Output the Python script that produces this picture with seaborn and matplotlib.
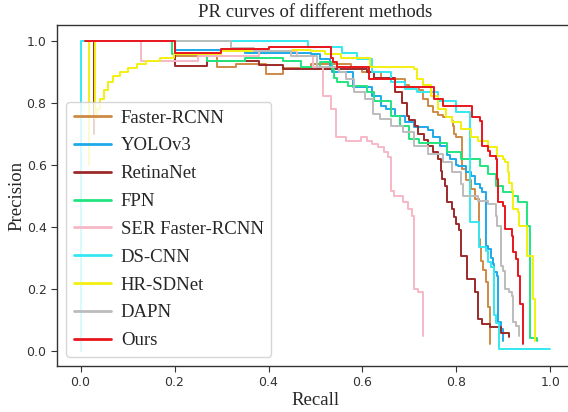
import matplotlib
matplotlib.use("Agg")
import matplotlib.pyplot as plt
import seaborn as sns
import pandas as pd

methods = ["Faster-RCNN", "YOLOv3", "RetinaNet", "FPN", "SER Faster-RCNN",
           "DS-CNN", "HR-SDNet", "DAPN", "Ours"]
colors = ["#cd8a45", "#1ea9ea", "#9c2a2a", "#22e47e", "#f5b8c6",
          "#35e8f0", "#f3f012", "#bcbcbc", "#e8161c"]

faster_r = [0.02, 0.2, 0.29, 0.33, 0.395, 0.43, 0.49, 0.575, 0.6, 0.64, 0.69, 0.7, 0.72, 0.728,
            0.74, 0.75, 0.76, 0.772, 0.79, 0.792, 0.795, 0.8, 0.812, 0.82, 0.83, 0.84, 0.847,
            0.851, 0.852, 0.857, 0.862, 0.866, 0.868, 0.872, 0.872]
faster_p = [1.0, 0.95, 0.913, 0.925, 0.893, 0.91, 0.925, 0.913, 0.9, 0.875, 0.858, 0.85, 0.84, 0.81,
            0.79, 0.77, 0.76, 0.752, 0.74, 0.723, 0.7, 0.688, 0.585, 0.55, 0.52, 0.489, 0.36,
            0.334, 0.29, 0.26, 0.222, 0.2, 0.141, 0.135, 0.02]

yolo_r = [0.02, 0.2, 0.35, 0.49, 0.51, 0.53, 0.535, 0.58, 0.62, 0.64, 0.65, 0.67, 0.69, 0.71,
          0.74, 0.75, 0.765, 0.78, 0.787, 0.798, 0.804, 0.82, 0.83, 0.84, 0.84, 0.851, 0.855,
          0.862, 0.862, 0.868, 0.874, 0.878, 0.879, 0.887, 0.889, 0.894, 0.898]
yolo_p = [1.0, 0.97, 0.96, 0.955, 0.94, 0.91, 0.897, 0.85, 0.82, 0.79, 0.778, 0.756, 0.736, 0.72,
          0.71, 0.69, 0.66, 0.63, 0.617, 0.6, 0.595, 0.575, 0.563, 0.55, 0.537, 0.525, 0.51,
          0.48, 0.338, 0.328, 0.3, 0.28, 0.254, 0.241, 0.093, 0.07, 0.03]

retina_r = [0.028, 0.028, 0.2, 0.27, 0.38, 0.43, 0.61, 0.625, 0.67, 0.685, 0.695, 0.7, 0.711,
            0.718, 0.73, 0.74, 0.75, 0.76, 0.766, 0.77, 0.775, 0.78, 0.79, 0.795, 0.8, 0.805,
            0.81, 0.823, 0.84, 0.845, 0.855, 0.872, 0.894, 0.911, 0.911]
retina_p = [0.7, 1.0, 0.917, 0.935, 0.92, 0.907, 0.9, 0.88, 0.833, 0.8, 0.755, 0.745, 0.723,
            0.7, 0.68, 0.66, 0.64, 0.617, 0.58, 0.553, 0.53, 0.479, 0.455, 0.43, 0.408, 0.39,
            0.305, 0.23, 0.19, 0.103, 0.087, 0.077, 0.055, 0.045, 0.045]

fpn_r = [0.02, 0.195, 0.27, 0.35, 0.43, 0.47, 0.51, 0.535, 0.54, 0.545, 0.57, 0.61, 0.625,
         0.66, 0.68, 0.7, 0.72, 0.78, 0.81, 0.85, 0.867, 0.885, 0.9, 0.92, 0.93, 0.951, 0.957,
         0.972]
fpn_p = [1.0, 0.955, 0.935, 0.945, 0.935, 0.913, 0.93, 0.907, 0.88, 0.865, 0.852, 0.833, 0.804,
         0.756, 0.723, 0.682, 0.67, 0.64, 0.617, 0.595, 0.569, 0.53, 0.511, 0.5, 0.479, 0.402,
         0.04, 0.03]

ser_r = [0.01, 0.128, 0.25, 0.38, 0.46, 0.494, 0.515, 0.532, 0.543, 0.564, 0.596, 0.61, 0.621,
         0.634, 0.645, 0.655, 0.66, 0.666, 0.687, 0.696, 0.706, 0.709, 0.719, 0.728, 0.728]
ser_p = [1.0, 0.935, 0.95, 0.965, 0.95, 0.916, 0.82, 0.778, 0.688, 0.675, 0.688, 0.675, 0.666,
         0.656, 0.64, 0.624, 0.514, 0.498, 0.479, 0.457, 0.434, 0.2, 0.19, 0.167, 0.048]

ds_r = [0.0, 0.0, 0.485, 0.557, 0.588, 0.62, 0.66, 0.69, 0.717, 0.76, 0.8, 0.828, 0.847,
        0.862, 0.866, 0.874, 0.88, 0.885, 0.89, 1.0]
ds_p = [0.0, 1.0, 0.98, 0.96, 0.94, 0.9, 0.865, 0.842, 0.833, 0.804, 0.769, 0.415, 0.334,
        0.32, 0.286, 0.27, 0.113, 0.09, 0.005, 0.005]

hr_r = [0.019, 0.019, 0.03, 0.036, 0.042, 0.049, 0.058, 0.07, 0.085, 0.1, 0.12, 0.14, 0.17,
        0.198, 0.3, 0.45, 0.49, 0.52, 0.555, 0.617, 0.709, 0.717, 0.728, 0.745, 0.76, 0.777,
        0.791, 0.809, 0.83, 0.845, 0.866, 0.887, 0.9, 0.904, 0.909, 0.911, 0.919, 0.921, 0.93,
        0.932, 0.951, 0.962, 0.968]
hr_p = [0.6, 1.0, 0.75, 0.78, 0.81, 0.84, 0.865, 0.885, 0.9, 0.912, 0.925, 0.935, 0.945,
        0.955, 0.965, 0.97, 0.965, 0.955, 0.945, 0.916, 0.907, 0.875, 0.858, 0.82, 0.78, 0.752,
        0.736, 0.714, 0.688, 0.675, 0.656, 0.627, 0.617, 0.607, 0.576, 0.54, 0.514, 0.457, 0.447,
        0.402, 0.305, 0.167, 0.03]

dapn_r = [0.02, 0.32, 0.37, 0.447, 0.504, 0.55, 0.564, 0.581, 0.606, 0.623, 0.638, 0.66, 0.687,
          0.709, 0.74, 0.772, 0.791, 0.809, 0.813, 0.845, 0.866, 0.883, 0.887, 0.894, 0.898,
          0.904, 0.911, 0.919, 0.921, 0.926, 0.932]
dapn_p = [1.0, 0.977, 0.965, 0.949, 0.916, 0.9, 0.875, 0.833, 0.81, 0.762, 0.746, 0.725, 0.704,
          0.66, 0.635, 0.608, 0.576, 0.537, 0.5, 0.482, 0.473, 0.434, 0.402, 0.273, 0.257,
          0.2, 0.19, 0.177, 0.093, 0.08, 0.048]

ours_r = [0.01, 0.2, 0.3, 0.4, 0.532, 0.537, 0.545, 0.613, 0.67, 0.752, 0.772, 0.834, 0.851,
          0.855, 0.866, 0.872, 0.883, 0.887, 0.889, 0.9, 0.904, 0.919, 0.921, 0.926, 0.93,
          0.935, 0.942, 0.942]
ours_p = [1.0, 0.96, 0.972, 0.98, 0.945, 0.93, 0.916, 0.875, 0.85, 0.81, 0.788, 0.752, 0.74,
          0.66, 0.645, 0.627, 0.617, 0.553, 0.479, 0.466, 0.392, 0.37, 0.318, 0.296, 0.24,
          0.15, 0.08, 0.02]

series = [(faster_r, faster_p), (yolo_r, yolo_p), (retina_r, retina_p), (fpn_r, fpn_p),
          (ser_r, ser_p), (ds_r, ds_p), (hr_r, hr_p), (dapn_r, dapn_p), (ours_r, ours_p)]

rows = []
for name, (rs, ps) in zip(methods, series):
    for r, p in zip(rs, ps):
        rows.append({"Method": name, "Recall": r, "Precision": p})
df = pd.DataFrame(rows)

sns.set_theme(style="ticks")
plt.rcParams["font.family"] = ["DejaVu Sans"]
serif = ["Liberation Serif", "DejaVu Serif"]

fig = plt.figure(figsize=(5.68, 4.12), dpi=100)
ax = fig.add_axes([57 / 568, 46 / 412, 517 / 568, 341 / 412])

for name, col in zip(methods, colors):
    sub = df[df["Method"] == name]
    sns.lineplot(data=sub, x="Recall", y="Precision", ax=ax, color=col, label=name,
                 estimator=None, sort=False, drawstyle="steps-post", lw=1.4)

ax.set_xlim(-0.05, 1.05)
ax.set_ylim(-0.05, 1.05)
ax.set_xticks([0.0, 0.2, 0.4, 0.6, 0.8, 1.0])
ax.set_yticks([0.0, 0.2, 0.4, 0.6, 0.8, 1.0])
ax.tick_params(labelsize=9, colors="#333333", length=4, width=0.8)
for s in ax.spines.values():
    s.set_color("#333333")
    s.set_linewidth(1.0)
ax.spines["right"].set_visible(False)

ax.set_title("PR curves of different methods", fontfamily=serif, fontsize=13.5, pad=6)
ax.set_xlabel("Recall", fontfamily=serif, fontsize=13.5, labelpad=2)
ax.set_ylabel("Precision", fontfamily=serif, fontsize=13.5, labelpad=1)

handles, labels = ax.get_legend_handles_labels()
leg = ax.legend(handles, labels, loc="lower left", prop={"family": serif, "size": 13.5},
                labelspacing=0.57, handlelength=2.0, handletextpad=0.5, frameon=True,
                fancybox=True, framealpha=0.8, edgecolor="#cccccc")
for h in leg.get_lines():
    h.set_linewidth(2.0)

fig.savefig("out.png", dpi=100)
